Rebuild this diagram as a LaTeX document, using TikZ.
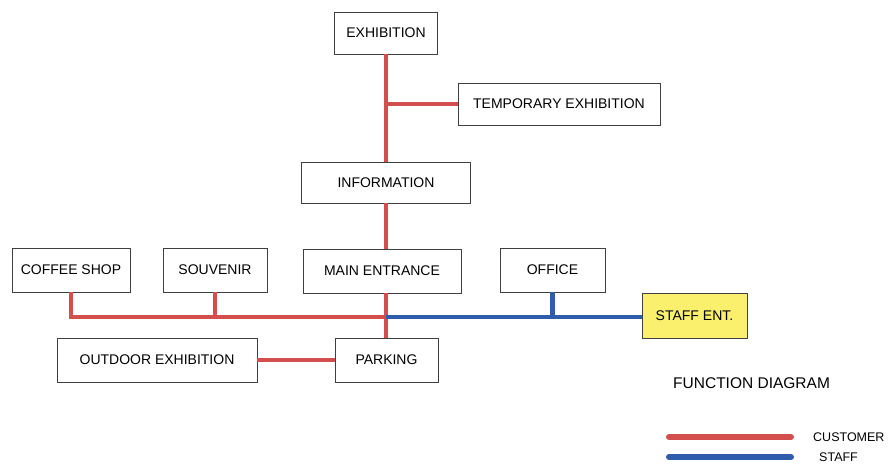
\documentclass[tikz,border=0pt]{standalone}
\usepackage{fontspec}
\setmainfont{Liberation Sans}
\usepackage{tikz}
\usetikzlibrary{positioning,calc}
\definecolor{custred}{RGB}{212,78,78}
\definecolor{staffblue}{RGB}{48,92,172}
\definecolor{entyellow}{RGB}{250,240,110}
\begin{document}
\begin{tikzpicture}[x=1pt, y=-1pt,
      box/.style={draw=black!75, line width=0.9pt, fill=white, minimum height=44pt, inner sep=0pt, font=\fontsize{14}{16}\selectfont},
      cust/.style={custred, line width=4.5pt},
      stf/.style={staffblue, line width=4.5pt},
      key/.style={line width=6pt, line cap=round},
      lab/.style={font=\fontsize{12.5}{14}\selectfont, anchor=west, inner sep=0pt}]
    \useasboundingbox (0,0) rectangle (892,465);
    % upper column
    \node[box, minimum width=103pt, minimum height=42pt] (exh) at (386,33) {EXHIBITION};
    \node[box, minimum width=202pt, minimum height=42pt] (temp) at (559,104) {TEMPORARY EXHIBITION};
    \node[box, minimum width=169pt, minimum height=41pt] (info) at (386,182.5) {INFORMATION};
    % middle row
    \node[box, minimum width=118pt] (coffee) at (71,270) {COFFEE SHOP};
    \node[box, minimum width=104pt] (souv) at (215,270) {SOUVENIR};
    \node[box, minimum width=158pt] (main) at (382,271) {MAIN ENTRANCE};
    \node[box, minimum width=105pt] (office) at (552.5,270) {OFFICE};
    \node[box, fill=entyellow, minimum width=105pt, minimum height=45pt] (staff) at (694.5,316) {STAFF ENT.};
    % lower row
    \node[box, minimum width=200pt] (outdoor) at (157,360) {OUTDOOR EXHIBITION};
    \node[box, minimum width=103pt] (park) at (386.5,360) {PARKING};
    % junctions
    \coordinate (jt) at (386,104);
    \coordinate (jm) at (386,317);
    % customer paths
    \draw[cust] (exh.south) -- (info.north);
    \draw[cust] (jt) -- (temp.west);
    \draw[cust] (info.south) -- (info.south |- main.north);
    \draw[cust] (park.north -| jm) -- (jm |- main.south);
    \draw[cust] (coffee.south) |- (jm);
    \draw[cust] (souv.south) -- (souv.south |- jm);
    \draw[cust] (outdoor.east) -- (park.west);
    % staff paths
    \draw[stf] (jm) -- (staff.west |- jm);
    \draw[stf] (office.south) -- (office.south |- jm);
    % legend
    \node[font=\fontsize{15.5}{18}\selectfont, anchor=west, inner sep=0pt] (title) at (673,383) {FUNCTION DIAGRAM};
    \coordinate (c1) at (669,437);
    \coordinate (c2) at (791,437);
    \coordinate (s1) at (669,457);
    \coordinate (s2) at (791,457);
    \draw[key, custred] (c1) -- (c2);
    \draw[key, staffblue] (s1) -- (s2);
    \node[lab] (clab) at (813,437) {CUSTOMER};
    \node[lab] (slab) at (819,457) {STAFF};
\end{tikzpicture}
\end{document}
